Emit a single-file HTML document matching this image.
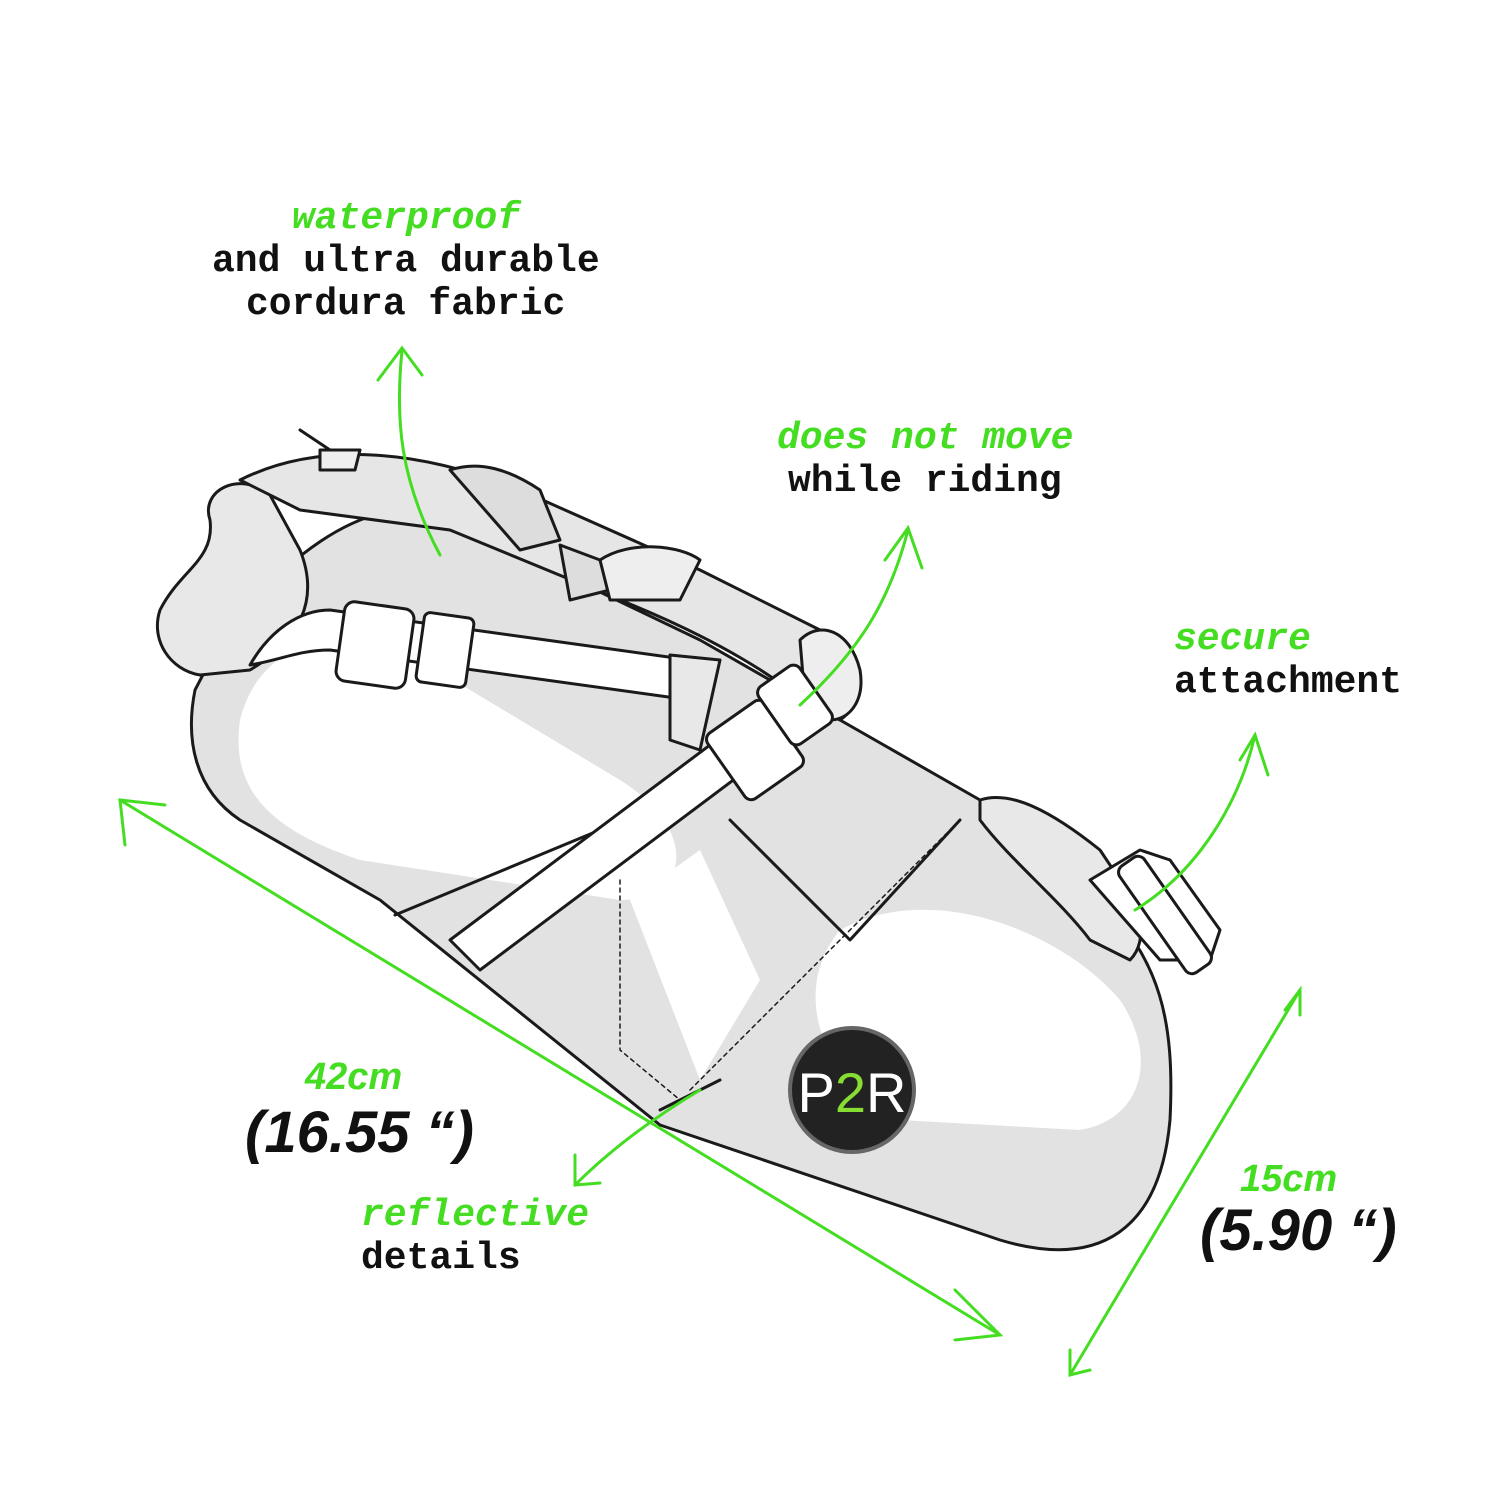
<!DOCTYPE html>
<html><head><meta charset="utf-8"><style>
html,body{margin:0;padding:0;background:#fff;}
#c{position:relative;width:1500px;height:1500px;overflow:hidden;}
.t{position:absolute;font-family:"Liberation Mono",monospace;font-weight:bold;font-size:38px;line-height:43px;white-space:nowrap;}
.g{color:#44dd22;font-style:italic;}
.k{color:#111;}
.big{font-family:"Liberation Sans",sans-serif;font-weight:bold;font-style:italic;font-size:58px;line-height:58px;color:#111;}
.gm{font-family:"Liberation Sans",sans-serif;font-weight:bold;font-style:italic;font-size:38px;color:#44dd22;}
</style></head><body><div id="c">
<svg width="1500" height="1500" style="position:absolute;left:0;top:0">
<g stroke="#1a1a1a" stroke-width="3" stroke-linejoin="round" stroke-linecap="round">
<path d="M195,690 C185,740 195,790 240,820 L380,900 L660,1125 L1000,1240 C1100,1270 1160,1230 1170,1120 C1175,1020 1160,960 1100,900 L980,800 L700,640 L450,520 C380,480 260,560 195,690 Z" fill="#e2e2e2"/>
<path d="M240,720 C260,640 340,620 420,660 L620,780 C700,830 690,900 620,900 L360,860 C270,830 230,790 240,720 Z" fill="#fff" stroke="none"/>
<path d="M840,930 C930,880 1060,930 1120,1000 C1160,1060 1140,1120 1080,1130 L900,1120 C820,1080 790,990 840,930 Z" fill="#fff" stroke="none"/>
<path d="M630,900 L700,1080 L760,980 L700,850 Z" fill="#fff" stroke="none"/>
<path d="M395,915 L600,830 L610,825" fill="none"/>
<path d="M620,880 L620,1050 L680,1100" fill="none" stroke-dasharray="4,4" stroke-width="1.5"/>
<path d="M660,1110 L720,1080" fill="none"/>
<path d="M730,820 L850,940 L960,820" fill="none"/>
<path d="M690,1090 L960,820" fill="none" stroke-dasharray="4,4" stroke-width="1.5"/>
<path d="M160,610 C150,640 170,670 200,675 L250,670 C300,640 320,600 300,550 L270,495 C240,470 200,490 210,520 C215,560 180,570 160,610 Z" fill="#e8e8e8"/>
<path d="M240,480 C320,440 420,450 520,490 L700,570 L820,630 C860,650 870,700 840,720 L800,700 C780,680 720,640 620,600 L450,530 L300,510 Z" fill="#e6e6e6"/>
<path d="M450,470 C480,460 510,470 540,490 L560,540 L520,550 Z" fill="#ddd"/>
<path d="M560,545 L600,560 L610,590 L570,600 Z" fill="#ddd"/>
<path d="M600,560 C630,540 680,545 700,560 L680,600 L610,600 Z" fill="#eee"/>
<path d="M300,430 L330,450" fill="none"/>
<path d="M320,450 L360,450 L355,470 L320,470 Z" fill="#eee"/>
<path d="M800,640 C820,620 850,630 860,670 C865,700 850,720 830,720 L805,700 Z" fill="#eee"/>
<path d="M980,800 C1010,790 1050,810 1100,850 L1120,880 C1140,900 1150,940 1130,960 L1090,940 C1060,900 1010,860 980,820 Z" fill="#e8e8e8"/>
<path d="M250,665 C270,630 300,610 330,610 L690,660 L690,700 L330,650 C300,650 280,660 250,665 Z" fill="#fff"/>
<rect x="340" y="605" width="70" height="80" rx="10" fill="#fff" transform="rotate(8 375 645)"/>
<rect x="420" y="615" width="50" height="70" rx="6" fill="#fff" transform="rotate(8 445 650)"/>
<path d="M670,655 L720,660 L700,750 L670,740 Z" fill="#e8e8e8"/>
<path d="M450,940 L770,700 L800,730 L480,970 Z" fill="#fff"/>
<rect x="720" y="710" width="70" height="80" rx="8" fill="#fff" transform="rotate(-35 755 750)"/>
<rect x="770" y="670" width="50" height="70" rx="8" fill="#fff" transform="rotate(-35 795 705)"/>
<path d="M1090,880 L1140,850 L1170,860 L1220,930 L1210,960 L1160,960 Z" fill="#fff"/>
<rect x="1150" y="850" width="30" height="130" rx="8" fill="#fff" transform="rotate(-35 1165 915)"/>
</g>
<circle cx="852" cy="1090" r="62" fill="#222" stroke="#666" stroke-width="4"/>
<text x="852" y="1112" text-anchor="middle" font-family="Liberation Sans" font-size="56" fill="#fff">P<tspan fill="#88dd33">2</tspan>R</text>
<g stroke="#44dd22" stroke-width="3" fill="none" stroke-linecap="round">
<path d="M120,800 L1000,1335"/><path d="M125,845 L120,800 L165,805"/><path d="M955,1290 L1000,1335 L955,1340"/>
<path d="M1300,990 L1070,1375"/><path d="M1285,1010 L1300,990 L1300,1015"/><path d="M1070,1350 L1070,1375 L1090,1370"/>
<path d="M440,555 C400,480 395,420 402,350"/><path d="M378,380 L402,348 L422,375"/>
<path d="M800,705 C860,650 890,600 908,530"/><path d="M885,560 L908,528 L922,568"/>
<path d="M1135,910 C1200,870 1240,800 1255,735"/><path d="M1240,760 L1255,735 L1268,775"/>
<path d="M700,1090 C650,1120 610,1150 575,1185"/><path d="M575,1155 L575,1185 L600,1183"/>
</g>
</svg>
<div class="t g" style="left:292px;top:197px">waterproof</div>
<div class="t k" style="left:212px;top:240px">and ultra durable</div>
<div class="t k" style="left:246px;top:283px">cordura fabric</div>
<div class="t g" style="left:777px;top:417px">does not move</div>
<div class="t k" style="left:788px;top:460px">while riding</div>
<div class="t g" style="left:1174px;top:618px">secure</div>
<div class="t k" style="left:1174px;top:661px">attachment</div>
<div class="t g" style="left:361px;top:1194px">reflective</div>
<div class="t k" style="left:361px;top:1237px">details</div>
<div class="t gm" style="left:305px;top:1056px">42cm</div>
<div class="t big" style="left:245px;top:1104px">(16.55 “)</div>
<div class="t gm" style="left:1240px;top:1158px">15cm</div>
<div class="t big" style="left:1200px;top:1202px">(5.90 “)</div>
</div></body></html>
